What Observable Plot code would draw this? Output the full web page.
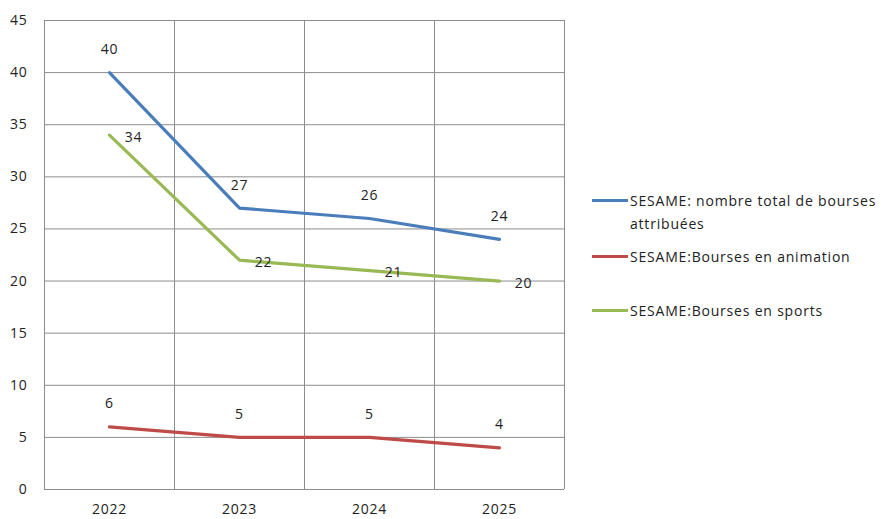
<!DOCTYPE html>
<html>
<head>
<meta charset="utf-8">
<script src="https://cdn.jsdelivr.net/npm/d3@7"></script>
<script src="https://cdn.jsdelivr.net/npm/@observablehq/plot@0.6"></script>
<style>
  html, body { margin: 0; padding: 0; background: #fff; }
  #wrap { position: relative; width: 885px; height: 519px; font-family: "Open Sans", "DejaVu Sans", sans-serif; }
  #wrap svg text { letter-spacing: 0.8px; }
  .leg { position: absolute; left: 592px; font-size: 14px; color: #222; line-height: 23px; letter-spacing: 0.8px; }
  .leg .sw { position: absolute; left: 0; top: 10px; width: 36px; height: 3px; }
  .leg .tx { position: absolute; left: 38px; top: 0; width: 260px; white-space: nowrap; }
</style>
</head>
<body>
<div id="wrap"></div>
<script>
const years = [2022, 2023, 2024, 2025];
const seriesNames = [
  "SESAME: nombre total de bourses attribuées",
  "SESAME:Bourses en animation",
  "SESAME:Bourses en sports"
];
const totalValues = [40, 27, 26, 24];
const animationValues = [6, 5, 5, 4];
const sportsValues = [34, 22, 21, 20];
const colors = ["#4a7ebb", "#be4b48", "#98b954"];
const yTicks = [0, 5, 10, 15, 20, 25, 30, 35, 40, 45];
const xBounds = [2021.5, 2022.5, 2023.5, 2024.5, 2025.5];

const valueSets = [totalValues, animationValues, sportsValues];
const data = [];
valueSets.forEach((vals, si) => vals.forEach((v, i) => data.push({series: seriesNames[si], year: years[i], value: v, si})));

const labelOffsets = [{dx: 0, dy: -23}, {dx: 0, dy: -23}, {dx: 24, dy: 2}];

const marks = [
  Plot.ruleY(yTicks, {stroke: "#8c8c8c", strokeWidth: 1}),
  Plot.ruleX(xBounds, {stroke: "#8c8c8c", strokeWidth: 1, y1: 0, y2: 45}),
  Plot.axisY(yTicks, {tickSize: 0, tickPadding: 17, fontSize: 14, fill: "#222", label: null}),
  Plot.axisX(years, {tickSize: 0, tickPadding: 15, fontSize: 14, fill: "#222", label: null, tickFormat: d => String(d)}),
];
seriesNames.forEach((name, si) => {
  const sub = data.filter(d => d.si === si);
  marks.push(Plot.line(sub, {x: "year", y: "value", stroke: colors[si], strokeWidth: 3.2}));
});
seriesNames.forEach((name, si) => {
  const sub = data.filter(d => d.si === si);
  marks.push(Plot.text(sub, {x: "year", y: "value", text: d => String(d.value), dx: labelOffsets[si].dx, dy: labelOffsets[si].dy, fontSize: 14, fill: "#222"}));
});

const chart = Plot.plot({
  width: 885,
  height: 519,
  marginLeft: 44,
  marginRight: 321,
  marginTop: 20,
  marginBottom: 30,
  x: {domain: [2021.5, 2025.5], label: null},
  y: {domain: [0, 45], label: null},
  style: {fontFamily: "'Open Sans', 'DejaVu Sans', sans-serif", background: "#fff"},
  marks
});
const wrap = document.getElementById("wrap");
wrap.appendChild(chart);

const legendTops = [189, 245, 299];
const legendLines = [["SESAME: nombre total de bourses", "attribuées"], [seriesNames[1]], [seriesNames[2]]];
legendLines.forEach((lines, i) => {
  const d = document.createElement("div");
  d.className = "leg";
  d.style.top = legendTops[i] + "px";
  const sw = document.createElement("div");
  sw.className = "sw";
  sw.style.background = colors[i];
  const tx = document.createElement("div");
  tx.className = "tx";
  tx.innerHTML = lines.join("<br>");
  d.appendChild(sw);
  d.appendChild(tx);
  wrap.appendChild(d);
});
</script>
</body>
</html>
